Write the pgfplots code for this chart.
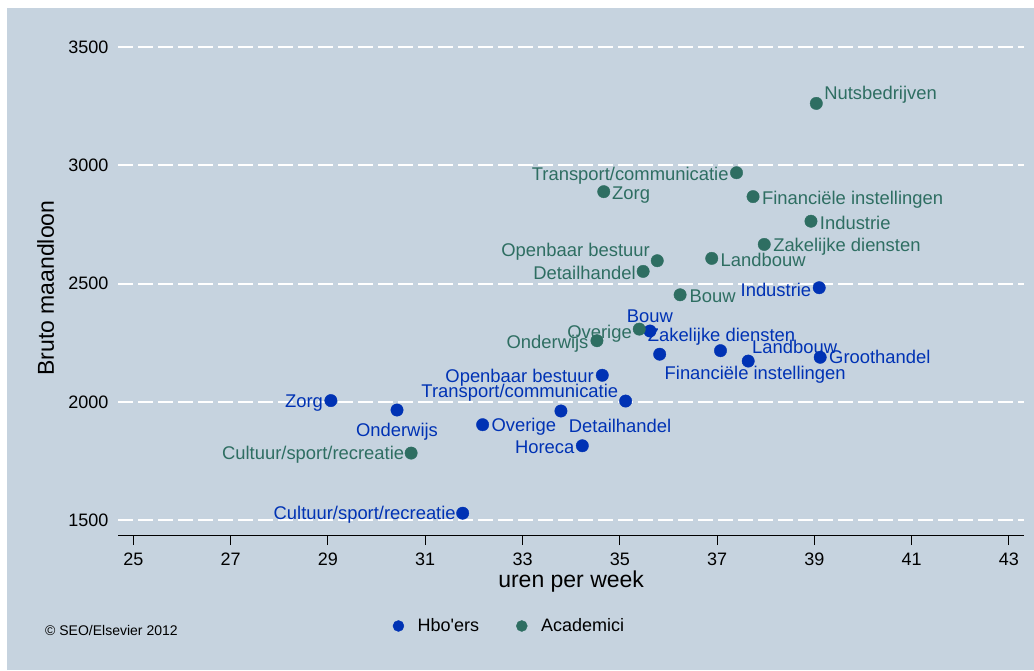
\documentclass[border=0pt]{standalone}
\usepackage{fontspec}
\setmainfont{Liberation Sans}
\usepackage{pgfplots}
\pgfplotsset{compat=1.18}

\definecolor{bg}{RGB}{198,211,223}
\definecolor{hbo}{RGB}{0,50,180}
\definecolor{aca}{RGB}{46,110,98}

\newcommand{\labfont}{\fontsize{18.4}{21}\selectfont}
% label to the right of the point: gap dx, baseline shift dy
\newcommand{\labR}[3]{\makebox[0pt][l]{\hspace*{#1pt}\raisebox{#2pt}[0pt][0pt]{#3}}}
% label to the left of the point
\newcommand{\labL}[3]{\makebox[0pt][r]{\raisebox{#2pt}[0pt][0pt]{#3}\hspace*{#1pt}}}
% label centred on the point
\newcommand{\labC}[3]{\makebox[0pt][c]{\hspace*{#1pt}\raisebox{#2pt}[0pt][0pt]{#3}}}

\begin{document}
\begin{tikzpicture}[x=1pt,y=1pt]
\useasboundingbox (0,0) rectangle (1034,670);
\fill[white] (0,0) rectangle (1034,670);
\fill[bg] (7,0) rectangle (1034,662);
\node[anchor=base west, inner sep=0pt, font=\fontsize{14}{16}\selectfont] at (45,35) {© SEO/Elsevier 2012};
\begin{axis}[
  at={(118.3pt,134.7pt)}, anchor=south west,
  scale only axis, width=905.7pt, height=502.4pt,
  xmin=24.69, xmax=43.31, ymin=1436.6, ymax=3560,
  axis x line*=bottom, axis y line*=left,
  axis line style={-, black, line width=1pt},
  y axis line style={draw=none},
  xtick={25,27,...,43}, ytick={1500,2000,...,3500},
  tick align=outside, major tick length=9.7pt,
  xtick style={black, line width=1pt},
  ytick style={draw=none},
  ymajorgrids,
  major grid style={white, line width=2pt, dash pattern=on 14.5pt off 5.5pt},
  /pgf/number format/assume math mode=true,
  /pgf/number format/1000 sep={},
  tick label style={font=\fontsize{18}{21}\selectfont, inner sep=0pt},
  xticklabel shift=8pt,
  xlabel={uren per week}, ylabel={Bruto maandloon},
  label style={font=\fontsize{23}{27}\selectfont, inner sep=0pt},
  xlabel style={at={(axis description cs:0.5,-0.1029)}, anchor=base},
  ylabel style={at={(axis description cs:-0.071,0.492)}, anchor=base},
  clip=false,
  legend style={draw=none, fill=none, legend columns=2, inner sep=0pt,
    at={(axis description cs:0.3028,-0.1805)}, anchor=west,
    font=\fontsize{18}{21}\selectfont,
    nodes={inner sep=0pt},
    /tikz/every odd column/.append style={column sep=13.5pt},
    /tikz/every even column/.append style={column sep=37pt}},
  legend image code/.code={\fill[#1] (5.5pt,0pt) circle (5.5pt);},
]
\addplot[only marks, mark=*, mark size=6.2pt, color=hbo, fill=hbo, mark options={draw=none, fill=hbo},
  nodes near coords, point meta=explicit symbolic,
  every node near coord/.append style={anchor=base, inner sep=0pt, font=\labfont, text=hbo}]
  coordinates {
  (29.06,2006) [\labL{8}{-6.5}{Zorg}]
  (30.42,1966) [\labC{0}{-26}{Onderwijs}]
  (31.77,1530) [\labL{7}{-6.5}{Cultuur/sport/recreatie}]
  (32.18,1904) [\labR{9}{-6.5}{Overige}]
  (33.79,1962) [\labR{8}{-22}{Detailhandel}]
  (34.23,1815) [\labL{8}{-7.5}{Horeca}]
  (35.12,2004) [\labL{7.5}{3.8}{Transport/communicatie}]
  (34.64,2113) [\labL{8.5}{-7}{Openbaar bestuur}]
  (35.62,2300) [\labC{0}{8.5}{Bouw}]
  (35.82,2202) [\labR{5}{-25.5}{Financiële instellingen}]
  (37.07,2217) [\labC{2}{9.2}{Zakelijke diensten}]
  (37.64,2173) [\labR{4}{7.8}{Landbouw}]
  (39.12,2189) [\labR{9}{-6.5}{Groothandel}]
  (39.10,2483) [\labL{8}{-8.8}{Industrie}]
  };
\addlegendentry{Hbo\textquotesingle ers}
\addplot[only marks, mark=*, mark size=6.2pt, color=aca, fill=aca, mark options={draw=none, fill=aca},
  nodes near coords, point meta=explicit symbolic,
  every node near coord/.append style={anchor=base, inner sep=0pt, font=\labfont, text=aca}]
  coordinates {
  (39.04,3262) [\labR{8}{3.5}{Nutsbedrijven}]
  (37.40,2969) [\labL{8}{-7.8}{Transport/communicatie}]
  (34.67,2889) [\labR{8.5}{-7.5}{Zorg}]
  (37.74,2868) [\labR{9}{-8}{Financiële instellingen}]
  (38.93,2764) [\labR{9}{-8}{Industrie}]
  (37.97,2666) [\labR{9}{-7.5}{Zakelijke diensten}]
  (35.77,2597) [\labL{7.5}{4.2}{Openbaar bestuur}]
  (35.48,2552) [\labL{7.5}{-7.9}{Detailhandel}]
  (36.89,2607) [\labR{9}{-8}{Landbouw}]
  (36.24,2453) [\labR{9.5}{-7.5}{Bouw}]
  (35.40,2308) [\labL{7.5}{-9}{Overige}]
  (34.53,2259) [\labL{8.5}{-8}{Onderwijs}]
  (30.71,1784) [\labL{7}{-6.8}{Cultuur/sport/recreatie}]
  };
\addlegendentry{Academici}
\end{axis}
\end{tikzpicture}
\end{document}
